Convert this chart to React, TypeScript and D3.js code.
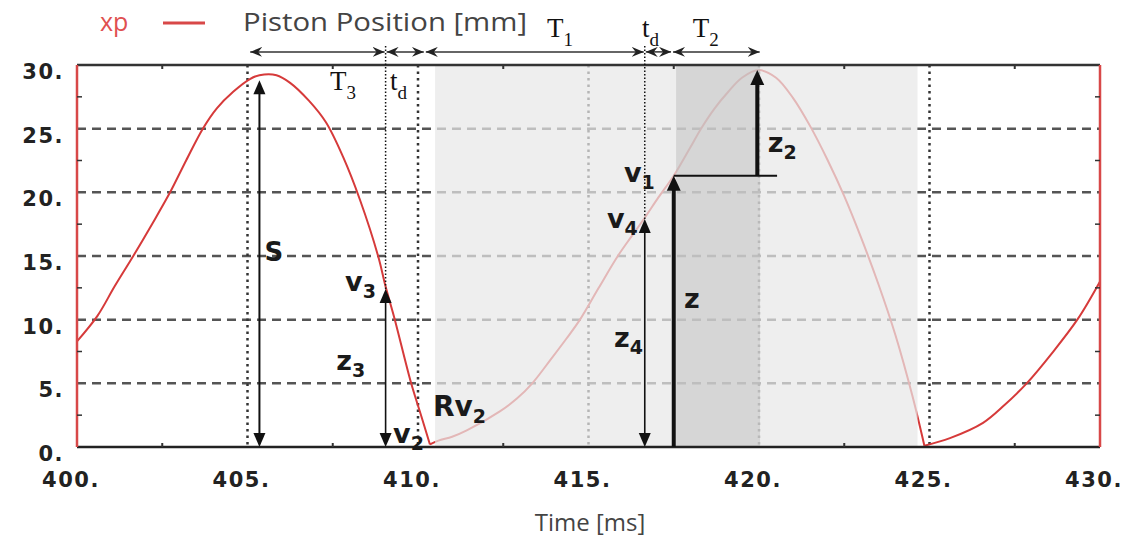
import React from 'react';
import * as d3 from 'd3';

// ---- data ----
const timeMs = [
  400.0, 400.6, 401.1, 401.65, 402.2, 402.73, 403.2, 403.69, 404.1, 404.58, 405.07, 405.35, 405.85,
  406.25, 406.8, 407.3, 407.8, 408.3, 408.83, 409.05, 409.32, 409.8, 410.1, 410.35,
  410.6, 411.0, 411.43, 412.4, 412.9, 413.35, 413.9, 414.35, 414.75, 415.3, 415.86, 416.25, 416.65,
  417.05, 417.5, 417.98, 418.3, 418.7, 419.1, 419.5, 420.0, 420.5, 421.0, 421.5, 422.0, 422.5, 423.0,
  423.5, 424.0, 424.5, 424.85, 425.6, 426.57, 427.2, 427.85, 428.6, 429.36, 430.0,
];
const positionMm = [
  8.3, 10.3, 12.6, 15.0, 17.5, 20.0, 22.5, 25.0, 26.6, 27.9, 28.9, 29.2, 29.2,
  28.6, 27.2, 25.5, 22.8, 19.4, 15.0, 12.6, 10.0, 5.0, 2.4, 0.2,
  0.5, 0.8, 1.3, 2.8, 3.8, 5.0, 6.9, 8.5, 10.0, 12.5, 15.0, 16.5, 18.0,
  19.6, 21.3, 23.5, 25.0, 26.6, 27.9, 29.0, 29.6, 29.0, 27.4, 25.2, 22.6, 19.7, 16.4,
  12.8, 8.8, 4.0, 0.1, 0.7, 1.9, 3.3, 5.0, 7.4, 10.1, 13.0,
];
// indices where the stroke turns sharply (bottom cusps)
const cuspIndices = [23, 54];

const xTickValues = [400, 405, 410, 415, 420, 425, 430];
const xTickLabels = ['400.', '405.', '410.', '415.', '420.', '425.', '430.'];
const yTickValues = [0, 5, 10, 15, 20, 25, 30];
const yTickLabels = ['0.', '5.', '10.', '15.', '20.', '25.', '30.'];
const xMinor = [402.5, 407.5, 412.5, 417.5, 422.5, 427.5];
const yMinor = [2.5, 7.5, 12.5, 17.5, 22.5, 27.5];

// phase boundaries (ms) for T3, td, T1, td, T2
const phaseBounds = [405.05, 409.05, 410.2, 416.65, 417.45, 420.05];
const phaseMain = ['T', 't', 'T', 't', 'T'];
const phaseSub = ['3', 'd', '1', 'd', '2'];
const phaseLabelT = [407.42, 409.18, 413.78, 416.57, 418.06];
const phaseLabelV = [28.05, 28.05, 32.2, 32.2, 32.2];
const phaseArrowV = 31.03;

const lightBand = [410.5, 424.65];
const darkBand = [417.57, 420.03];

// annotation points (time, value)
const sArrow = { t: 405.35, top: 28.8 };
const v3Point = { t: 409.05, v: 12.4 };
const v4Point = { t: 416.65, v: 17.9 };
const v1Point = { t: 417.5, v: 21.3 };
const z2Point = { t: 419.95, v: 29.6 };
const v1LineEnd = 420.53;

// label positions (time, value) baseline
const labels = [
  { main: 'S', sub: '', t: 405.5, v: 14.6, size: 26 },
  { main: 'v', sub: '3', t: 407.86, v: 12.25, size: 27 },
  { main: 'z', sub: '3', t: 407.6, v: 6.05, size: 27 },
  { main: 'v', sub: '2', t: 409.27, v: 0.3, size: 27 },
  { main: 'Rv', sub: '2', t: 410.44, v: 2.43, size: 28 },
  { main: 'z', sub: '4', t: 415.75, v: 7.85, size: 27 },
  { main: 'v', sub: '4', t: 415.54, v: 17.2, size: 27 },
  { main: 'v', sub: '1', t: 416.04, v: 20.8, size: 27 },
  { main: 'z', sub: '', t: 417.8, v: 10.9, size: 27 },
  { main: 'z', sub: '2', t: 420.26, v: 23.2, size: 27 },
];

const W = 1147;
const H = 542;

export default function App() {
  const x = d3.scaleLinear().domain([400, 430]).range([77, 1100]);
  const y = d3.scaleLinear().domain([0, 30]).range([447, 65]);
  const pts: [number, number][] = timeMs.map((t, i) => [x(t), y(positionMm[i])]);
  const bounds = [0, ...cuspIndices, pts.length - 1];
  const lineGen = d3.line().curve(d3.curveCatmullRom.alpha(0.5));
  const segs = bounds.slice(0, -1).map((b, i) => lineGen(pts.slice(b, bounds[i + 1] + 1)) || '');

  const arrowUp = (cx: number, tipY: number, len: number, hw: number) =>
    `M${cx},${tipY} L${cx - hw},${tipY + len} L${cx + hw},${tipY + len} Z`;
  const arrowDown = (cx: number, tipY: number, len: number, hw: number) =>
    `M${cx},${tipY} L${cx - hw},${tipY - len} L${cx + hw},${tipY - len} Z`;

  const red = '#d84848';
  const x0 = x(400), x1 = x(430), yTop = y(30), yBot = y(0);
  const arrowY = y(phaseArrowV);

  return (
    <svg width={W} height={H} style={{ position: 'absolute', left: 0, top: 0, background: '#fff' }}>
      <defs>
        <marker id="barb" viewBox="0 0 12 10" refX="12" refY="5" markerWidth="12" markerHeight="10"
          markerUnits="userSpaceOnUse" orient="auto-start-reverse">
          <path d="M0,0 L12,5 L0,10 L4,5 Z" fill="#222" />
        </marker>
      </defs>
      <rect x={0} y={0} width={W} height={H} fill="#fff" />

      {/* horizontal dashed grid */}
      {yTickValues.filter(v => v > 0 && v < 30).map(v => (
        <line key={'hg' + v} x1={x0} x2={x1} y1={y(v)} y2={y(v)} stroke="#555" strokeWidth={2.5}
          strokeDasharray="9,6" />
      ))}
      {/* vertical dotted grid */}
      {xTickValues.filter(v => v > 400 && v < 430).map(v => (
        <line key={'vg' + v} x1={x(v)} x2={x(v)} y1={yTop} y2={yBot} stroke="#333" strokeWidth={2.5}
          strokeDasharray="2.5,4" />
      ))}

      {/* curve */}
      {segs.map((d, i) => (
        <path key={'seg' + i} d={d} fill="none" stroke="#d63a3a" strokeWidth={2} strokeLinejoin="round" />
      ))}

      {/* shaded bands */}
      <rect x={x(lightBand[0])} y={yTop + 1} width={x(lightBand[1]) - x(lightBand[0])} height={yBot - yTop - 2}
        fill="#e8e8e8" opacity={0.72} />
      <rect x={x(darkBand[0])} y={yTop + 1} width={x(darkBand[1]) - x(darkBand[0])} height={yBot - yTop - 2}
        fill="#bdbdbd" opacity={0.5} />

      {/* axes frame */}
      <line x1={x0} x2={x1} y1={yTop} y2={yTop} stroke="#333" strokeWidth={2.5} />
      <line x1={x0} x2={x1} y1={yBot} y2={yBot} stroke="#222" strokeWidth={2.5} />
      <line x1={x0} x2={x0} y1={yTop} y2={yBot} stroke={red} strokeWidth={2.5} />
      <line x1={x1} x2={x1} y1={yTop} y2={yBot} stroke={red} strokeWidth={2.5} />

      {/* minor ticks */}
      {yMinor.map(v => (
        <g key={'ym' + v}>
          <line x1={x0} x2={x0 + 5} y1={y(v)} y2={y(v)} stroke="#333" strokeWidth={1.5} />
          <line x1={x1 - 5} x2={x1} y1={y(v)} y2={y(v)} stroke="#333" strokeWidth={1.5} />
        </g>
      ))}
      {xMinor.map(v => (
        <g key={'xm' + v}>
          <line x1={x(v)} x2={x(v)} y1={yTop} y2={yTop + 4} stroke="#333" strokeWidth={2} />
          <line x1={x(v)} x2={x(v)} y1={yBot - 4} y2={yBot} stroke="#333" strokeWidth={2} />
        </g>
      ))}

      {/* tick labels */}
      {xTickValues.map((v, i) => (
        <text key={'xl' + v} x={x(v) - 6} y={yBot + 40} textAnchor="middle"
          fontFamily="'DejaVu Sans', Verdana, sans-serif" fontWeight="bold" fontSize={21}
          letterSpacing={1.5} fill="#222">{xTickLabels[i]}</text>
      ))}
      {yTickValues.map((v, i) => (
        <text key={'yl' + v} x={64} y={y(v) + 14} textAnchor="end"
          fontFamily="'DejaVu Sans', Verdana, sans-serif" fontWeight="bold" fontSize={21}
          letterSpacing={1.5} fill="#222">{yTickLabels[i]}</text>
      ))}

      {/* legend & axis title */}
      <text x={100} y={31} fontFamily="'Open Sans', sans-serif" fontSize={25} fill="#e05050">xp</text>
      <line x1={163} x2={205} y1={23} y2={23} stroke={red} strokeWidth={3} />
      <text x={243} y={31} fontFamily="'Open Sans', sans-serif" fontSize={25} fill="#444"
        textLength={284} lengthAdjust="spacingAndGlyphs">Piston Position [mm]</text>
      <text x={590} y={531} textAnchor="middle" fontFamily="'Open Sans', sans-serif" fontSize={24}
        fill="#444">Time [ms]</text>

      {/* annotation dotted lines */}
      <line x1={x(v3Point.t)} x2={x(v3Point.t)} y1={arrowY - 6} y2={y(v3Point.v)} stroke="#111"
        strokeWidth={1.5} strokeDasharray="1.5,2" />
      <line x1={x(v4Point.t)} x2={x(v4Point.t)} y1={arrowY - 6} y2={y(v4Point.v)} stroke="#111"
        strokeWidth={1.5} strokeDasharray="1.5,2" />

      {/* top phase arrows */}
      {phaseMain.map((m, i) => (
        <g key={'ph' + i}>
          <line x1={x(phaseBounds[i]) + 1} x2={x(phaseBounds[i + 1]) - 1} y1={arrowY} y2={arrowY}
            stroke="#333" strokeWidth={1.5} markerStart="url(#barb)" markerEnd="url(#barb)" />
          <text x={x(phaseLabelT[i])} y={y(phaseLabelV[i])} fontFamily="'Liberation Serif', 'Times New Roman', serif"
            fontSize={27} fill="#111">
            {m}
            <tspan fontSize={19} dy={9}>{phaseSub[i]}</tspan>
          </text>
        </g>
      ))}

      {/* S arrow */}
      <line x1={x(sArrow.t)} x2={x(sArrow.t)} y1={y(sArrow.top) + 10} y2={yBot - 10} stroke="#111" strokeWidth={2} />
      <path d={arrowUp(x(sArrow.t), y(sArrow.top), 14, 6)} fill="#111" />
      <path d={arrowDown(x(sArrow.t), yBot, 14, 6)} fill="#111" />

      {/* z3 arrow */}
      <line x1={x(v3Point.t)} x2={x(v3Point.t)} y1={y(v3Point.v) + 10} y2={yBot - 10} stroke="#111" strokeWidth={1.6} />
      <path d={arrowUp(x(v3Point.t), y(v3Point.v), 14, 6)} fill="#111" />
      <path d={arrowDown(x(v3Point.t), yBot, 14, 6)} fill="#111" />

      {/* z4 arrow */}
      <line x1={x(v4Point.t)} x2={x(v4Point.t)} y1={y(v4Point.v) + 10} y2={yBot - 10} stroke="#111" strokeWidth={1.6} />
      <path d={arrowUp(x(v4Point.t), y(v4Point.v), 14, 6)} fill="#111" />
      <path d={arrowDown(x(v4Point.t), yBot, 14, 6)} fill="#111" />

      {/* z arrow (thick) */}
      <line x1={x(v1Point.t)} x2={x(v1Point.t)} y1={y(v1Point.v) + 12} y2={yBot} stroke="#111" strokeWidth={4} />
      <path d={arrowUp(x(v1Point.t), y(v1Point.v), 15, 7)} fill="#111" />
      <line x1={x(v1Point.t)} x2={x(v1LineEnd)} y1={y(v1Point.v)} y2={y(v1Point.v)} stroke="#111" strokeWidth={2} />

      {/* z2 arrow (thick) */}
      <line x1={x(z2Point.t)} x2={x(z2Point.t)} y1={y(z2Point.v) + 12} y2={y(v1Point.v)} stroke="#111" strokeWidth={4} />
      <path d={arrowUp(x(z2Point.t), y(z2Point.v), 15, 7)} fill="#111" />

      {/* labels */}
      {labels.map((l, i) => (
        <text key={'lb' + i} x={x(l.t)} y={y(l.v)} fontFamily="'DejaVu Sans', Verdana, sans-serif"
          fontWeight="bold" fontSize={l.size} fill="#1a1a1a">
          {l.main}
          {l.sub ? <tspan fontSize={19} dy={7}>{l.sub}</tspan> : null}
        </text>
      ))}
    </svg>
  );
}
